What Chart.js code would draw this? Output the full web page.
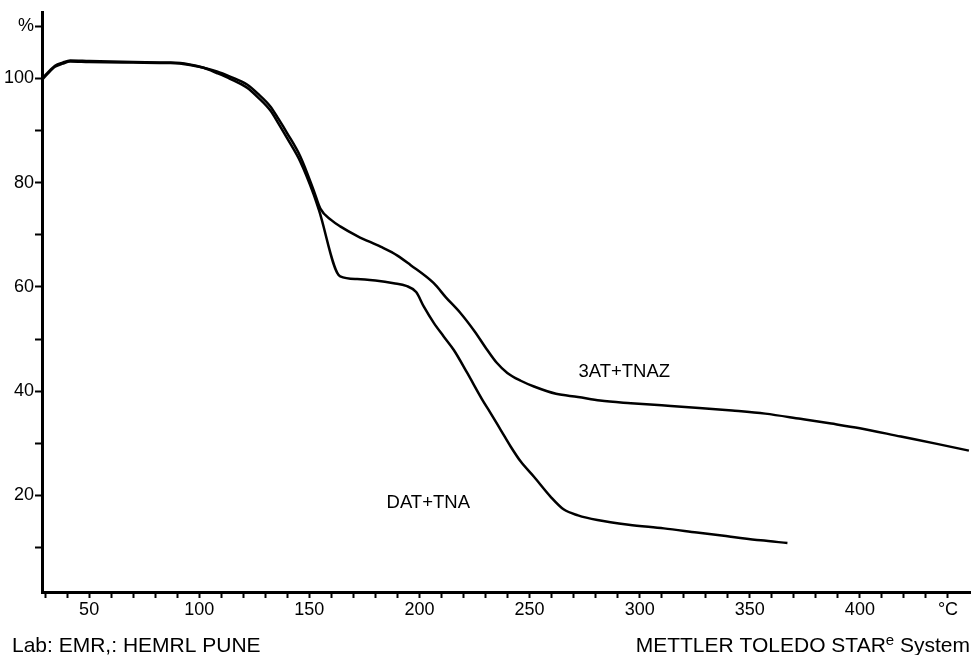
<!DOCTYPE html>
<html>
<head>
<meta charset="utf-8">
<script src="https://cdn.jsdelivr.net/npm/chart.js@4.4.1/dist/chart.umd.min.js"></script>
<style>
  html, body { margin: 0; padding: 0; background: #fff; }
  #wrap { width: 972px; height: 655px; }
</style>
</head>
<body>
<div id="wrap"><canvas id="chart" width="972" height="655"></canvas></div>
<script>
// temperature (°C) and mass (%)
const tempTNAZ = [28.6, 31, 34.5, 38, 41.4, 50, 70, 87, 95, 102, 108, 114, 121.7, 127, 132.3, 136, 139.9, 145.9, 151.9, 155, 160, 164, 172, 182.3, 190, 195.9, 206.5, 212, 218.6, 225, 230.8, 235, 239.9, 246, 252, 262, 272, 282, 296, 310, 327, 342, 357, 373, 387, 400, 418.6, 435, 449.5];
const massTNAZ = [99.7, 100.8, 102.2, 102.8, 103.2, 103.1, 103.0, 102.9, 102.6, 102.0, 101.3, 100.3, 98.8, 96.9, 94.6, 92.2, 89.5, 85.0, 78.6, 75.0, 72.8, 71.6, 69.7, 67.7, 66.0, 64.2, 60.7, 58.0, 55.0, 51.5, 47.9, 45.5, 43.5, 42.0, 40.9, 39.5, 38.9, 38.2, 37.7, 37.3, 36.8, 36.3, 35.7, 34.7, 33.8, 32.9, 31.3, 29.9, 28.6];

const tempTNA = [28.6, 31, 34.5, 38, 41.4, 50, 70, 87, 95, 102, 108, 114, 121.7, 127, 132.3, 136, 139.9, 145.9, 151.9, 154.3, 164, 171.7, 180, 188.3, 194, 198.5, 202, 206.5, 211, 215.6, 221.7, 228.5, 232.3, 237, 241.4, 246, 252, 259.5, 265.6, 272, 280.8, 295, 311, 326, 341.4, 355, 367.1];
const massTNA = [99.9, 101.0, 102.4, 103.0, 103.4, 103.3, 103.1, 103.0, 102.7, 102.0, 101.0, 99.9, 98.2, 96.2, 93.8, 91.3, 88.5, 84.0, 77.8, 74.8, 62.0, 61.5, 61.2, 60.7, 60.2, 59.0, 56.2, 53.1, 50.5, 47.9, 43.5, 38.4, 35.8, 32.5, 29.4, 26.5, 23.6, 19.8, 17.3, 16.2, 15.3, 14.4, 13.7, 12.9, 12.1, 11.4, 10.9];

const seriesNames = ['3AT+TNAZ', 'DAT+TNA'];
const xTicks = [30, 40, 50, 60, 70, 80, 90, 100, 110, 120, 130, 140, 150, 160, 170, 180, 190, 200, 210, 220, 230, 240, 250, 260, 270, 280, 290, 300, 310, 320, 330, 340, 350, 360, 370, 380, 390, 400, 410, 420, 430, 440];
const xLabels = [50, 100, 150, 200, 250, 300, 350, 400];
const yTicks = [10, 20, 30, 40, 50, 60, 70, 80, 90, 100, 110];
const yLabels = [20, 40, 60, 80, 100];

const toPoints = (xs, ys) => xs.map((x, i) => ({ x: x, y: ys[i] }));

const textPlugin = {
  id: 'texts',
  afterDraw(chart) {
    const ctx = chart.ctx;
    const xs = chart.scales.x, ys = chart.scales.y;
    ctx.save();
    ctx.fillStyle = '#000';
    ctx.font = '18.5px "Liberation Sans", Arial, sans-serif';
    ctx.textAlign = 'center';
    ctx.textBaseline = 'middle';
    ctx.fillText(seriesNames[0], xs.getPixelForValue(293), ys.getPixelForValue(43.7));
    ctx.fillText(seriesNames[1], xs.getPixelForValue(204), ys.getPixelForValue(18.6));

    ctx.font = '21px "Liberation Sans", Arial, sans-serif';
    ctx.textBaseline = 'alphabetic';
    ctx.textAlign = 'left';
    ctx.fillText('Lab: EMR,: HEMRL PUNE', 12, 652);
    // right text with superscript e
    ctx.textAlign = 'right';
    const tail = ' System';
    ctx.fillText(tail, 970, 652);
    let w = ctx.measureText(tail).width;
    ctx.font = '15px "Liberation Sans", Arial, sans-serif';
    ctx.fillText('e', 970 - w, 645);
    w += ctx.measureText('e').width;
    ctx.font = '21px "Liberation Sans", Arial, sans-serif';
    ctx.fillText('METTLER TOLEDO STAR', 970 - w, 652);
    ctx.restore();
  }
};

new Chart(document.getElementById('chart').getContext('2d'), {
  type: 'line',
  data: {
    datasets: [
      { label: seriesNames[0], data: toPoints(tempTNAZ, massTNAZ) },
      { label: seriesNames[1], data: toPoints(tempTNA, massTNA) }
    ]
  },
  options: {
    responsive: false,
    animation: false,
    layout: { padding: { top: 12, right: 2, left: 0, bottom: 0 } },
    elements: {
      point: { radius: 0 },
      line: { borderColor: '#000', borderWidth: 2.5, cubicInterpolationMode: 'monotone', fill: false }
    },
    plugins: { legend: { display: false }, tooltip: { enabled: false } },
    scales: {
      x: {
        type: 'linear',
        min: 28.6,
        max: 450,
        afterFit: s => { s.height = 63; },
        afterBuildTicks: s => { s.ticks = xTicks.map(v => ({ value: v })); },
        border: { color: '#000', width: 3 },
        grid: { drawOnChartArea: false, tickLength: 6, tickWidth: 2, tickColor: '#000' },
        ticks: {
          autoSkip: false,
          maxRotation: 0,
          padding: 1,
          color: '#000',
          font: { family: '"Liberation Sans", Arial, sans-serif', size: 18 },
          callback: v => v === 440 ? '°C' : (xLabels.includes(v) ? String(v) : '')
        }
      },
      y: {
        min: 1.5,
        max: 112.7,
        afterFit: s => { s.width = 42; },
        afterBuildTicks: s => { s.ticks = yTicks.map(v => ({ value: v })); },
        border: { color: '#000', width: 3 },
        grid: { drawOnChartArea: false, tickLength: 7, tickWidth: 2, tickColor: '#000' },
        ticks: {
          padding: 1,
          color: '#000',
          font: { family: '"Liberation Sans", Arial, sans-serif', size: 18 },
          callback: v => v === 110 ? '%' : (yLabels.includes(v) ? String(v) : '')
        }
      }
    }
  },
  plugins: [textPlugin]
});
</script>
</body>
</html>
